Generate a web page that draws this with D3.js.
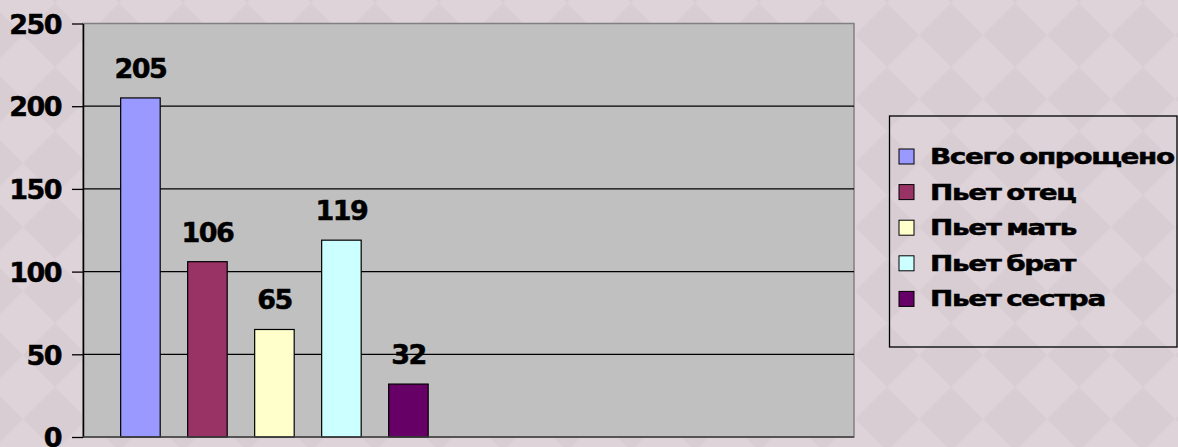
<!DOCTYPE html>
<html lang="ru">
<head>
<meta charset="UTF-8">
<title>Пьющие родственники</title>
<style>
    body { margin: 0; padding: 0; overflow: hidden; }
    svg { display: block; }
    .lbl { font-family: "DejaVu Sans", sans-serif; font-weight: bold; fill: #000; stroke: #000; stroke-width: 0.5px; }
</style>
</head>
<body>
<svg id="chart" width="1178" height="447"></svg>
<script src="https://d3js.org/d3.v7.min.js"></script>
<script>
    // data
    const series = ["Всего опрощено", "Пьет отец", "Пьет мать", "Пьет брат", "Пьет сестра"];
    const values = [205, 106, 65, 119, 32];
    const colors = ["#9999ff", "#993366", "#ffffcc", "#ccffff", "#660066"];
    const slots = ["опрос", "пусто"];   // second category slot is empty
    const yTicks = [0, 50, 100, 150, 200, 250];

    const W = 1178, H = 447;
    const plot = { left: 83, right: 854, top: 23.5, bottom: 437 };

    const svg = d3.select("#chart");

    // diamond background
    const defs = svg.append("defs");
    const pat = defs.append("pattern")
        .attr("id", "bg").attr("patternUnits", "userSpaceOnUse")
        .attr("x", -9).attr("y", 35).attr("width", 64).attr("height", 64);
    pat.append("rect").attr("width", 64).attr("height", 64).attr("fill", "#d8cdd3");
    pat.append("path").attr("d", "M32,0L64,32L32,64L0,32Z").attr("fill", "#ddd3d9");
    svg.append("rect").attr("width", W).attr("height", H).attr("fill", "url(#bg)");

    const y = d3.scaleLinear().domain([0, 250]).range([plot.bottom, plot.top]);
    const x0 = d3.scaleBand().domain(slots).range([plot.left, plot.right]);
    const x1 = d3.scaleBand().domain(series).range([0, x0.bandwidth()])
        .paddingInner(0.41).paddingOuter(0.582).align(0.483);

    // plot area
    svg.append("rect")
        .attr("x", plot.left).attr("y", plot.top)
        .attr("width", plot.right - plot.left).attr("height", plot.bottom - plot.top)
        .attr("fill", "#c0c0c0").attr("stroke", "#808080").attr("stroke-width", 1.5);

    // grid
    svg.append("g")
        .selectAll("line")
        .data(yTicks.filter(d => d > 0 && d < 250))
        .join("line")
        .attr("x1", plot.left).attr("x2", plot.right)
        .attr("y1", d => y(d)).attr("y2", d => y(d))
        .attr("stroke", "#000").attr("stroke-width", 1.3);

    // bars
    const g = svg.append("g").attr("transform", `translate(${x0(slots[0])},0)`);
    g.selectAll("rect")
        .data(values)
        .join("rect")
        .attr("x", (d, i) => x1(series[i]))
        .attr("y", d => y(d))
        .attr("width", x1.bandwidth())
        .attr("height", d => y(0) - y(d))
        .attr("fill", (d, i) => colors[i])
        .attr("stroke", "#000").attr("stroke-width", 1.2);

    g.selectAll("text")
        .data(values)
        .join("text")
        .attr("class", "lbl")
        .attr("x", (d, i) => x1(series[i]) + x1.bandwidth() / 2)
        .attr("y", d => y(d) - 20)
        .attr("text-anchor", "middle")
        .style("font-size", "27px")
        .style("letter-spacing", "-1.5px")
        .text(d => d);

    // y axis
    const yAxis = svg.append("g")
        .attr("transform", `translate(${plot.left},0)`)
        .call(d3.axisLeft(y).tickValues(yTicks).tickSize(11).tickPadding(11).tickSizeOuter(0));
    yAxis.select(".domain").attr("stroke", "#000").attr("stroke-width", 1.5);
    yAxis.selectAll(".tick line").attr("stroke", "#000").attr("stroke-width", 1.3);
    yAxis.selectAll(".tick text")
        .attr("class", "lbl")
        .style("font-size", "27px")
        .style("letter-spacing", "-1.5px")
        .attr("dy", "0.36em");

    // x axis line
    svg.append("line")
        .attr("x1", plot.left).attr("x2", plot.right)
        .attr("y1", plot.bottom).attr("y2", plot.bottom)
        .attr("stroke", "#404040").attr("stroke-width", 1.5);

    // legend
    const leg = svg.append("g");
    leg.append("rect")
        .attr("x", 889.5).attr("y", 116).attr("width", 287.5).attr("height", 231)
        .attr("fill", "none").attr("stroke", "#000").attr("stroke-width", 1.3);
    const item = leg.selectAll("g.item")
        .data(series)
        .join("g")
        .attr("class", "item")
        .attr("transform", (d, i) => `translate(899,${149 + i * 35.6})`);
    item.append("rect")
        .attr("width", 15).attr("height", 15)
        .attr("fill", (d, i) => colors[i])
        .attr("stroke", "#000").attr("stroke-width", 1);
    const lt = item.append("g")
        .attr("transform", "translate(31,15)")
        .append("text")
        .attr("class", "lbl")
        .style("font-size", "21px")
        .style("letter-spacing", "-1px")
        .style("word-spacing", "-2px")
        .text(d => d);
    // stretch legend text horizontally so the longest entry fills the box
    const w0 = lt.nodes()[0].getComputedTextLength();
    const sx = 244 / w0;
    lt.attr("transform", `scale(${sx},1)`);
</script>
</body>
</html>
